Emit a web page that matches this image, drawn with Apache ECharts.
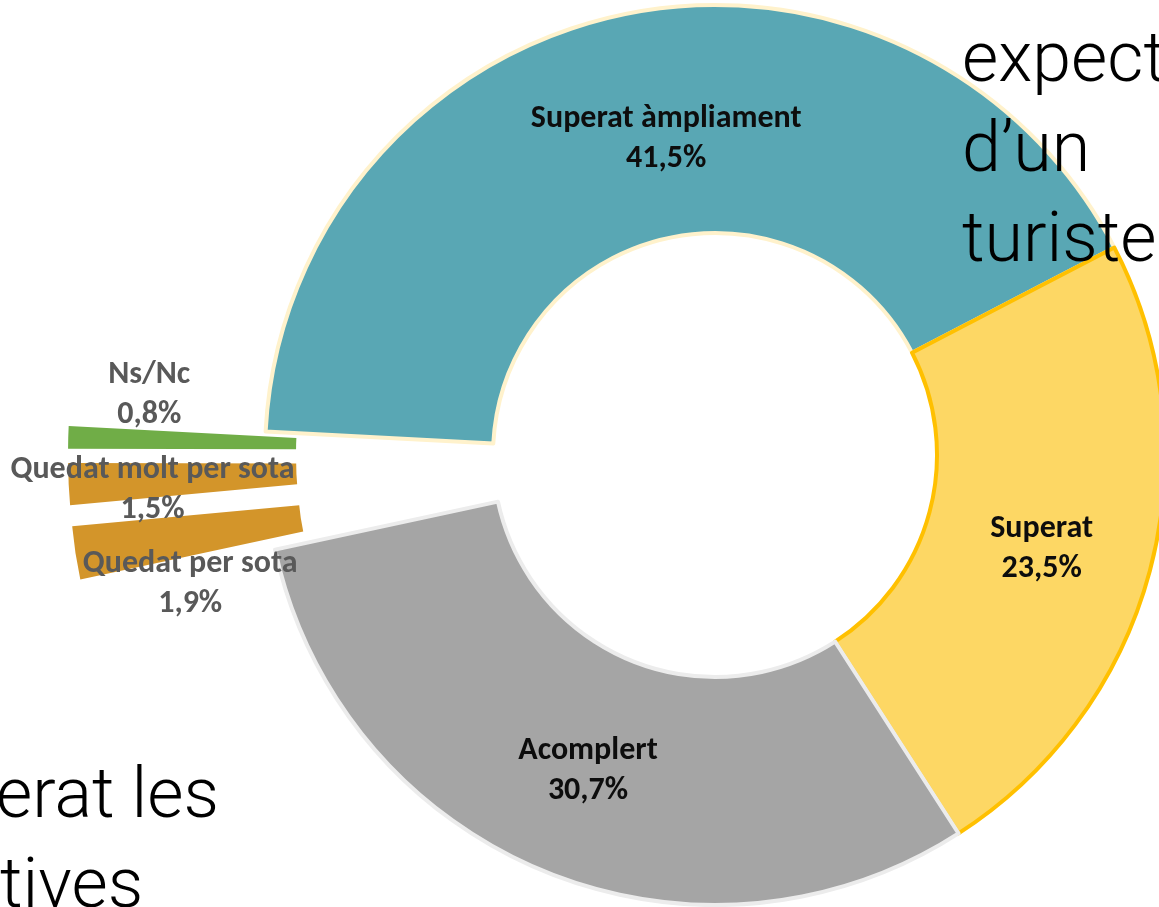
<!DOCTYPE html>
<html>
<head>
<meta charset="utf-8">
<script src="https://cdn.jsdelivr.net/npm/echarts@6/dist/echarts.min.js"></script>
<style>
  html, body { margin: 0; padding: 0; background: #fff; }
  #chart { width: 1159px; height: 907px; }
</style>
</head>
<body>
<div id="chart"></div>
<script>
// valoració respecte a les expectatives (%)
const categories = ['Superat àmpliament', 'Superat', 'Acomplert', 'Quedat per sota', 'Quedat molt per sota', 'Ns/Nc']
const shares = [41.5, 23.5, 30.7, 1.9, 1.5, 0.8]
const exploded = [false, false, false, true, true, true]
const backText = [
  { text: 'expect', x: 962, y: 87 },
  { text: 'd\u2019un', x: 962, y: 177 },
  { text: 'turiste', x: 962, y: 267 },
  { text: 'erat les', x: -4, y: 823 },
  { text: 'tives', x: 0, y: 913 },
]

const fills = ['#59a7b4', '#fdd764', '#a5a5a5', '#d3952a', '#d3952a', '#70ad47']
const borders = ['#fff2cc', '#ffc000', '#ececec', null, null, null]
// Excel-style label nudges
const nudge = [[23, 15], [-1, 7], [3, 3], [5, 48], [-27, 11], [-30, -45]]

const chart = echarts.init(document.getElementById('chart'))

chart.setOption({
  backgroundColor: '#fff',
  animation: false,
  graphic: backText.map(t => ({
    type: 'text',
    z: 100,
    silent: true,
    style: {
      text: t.text,
      x: t.x,
      y: t.y - 24,
      verticalAlign: 'middle',
      font: '300 70px Roboto, "Open Sans", sans-serif',
      fill: '#000',
    },
  })),
  series: [
    {
      type: 'pie',
      center: [715, 455],
      radius: [222, 450],
      startAngle: 177,
      clockwise: true,
      selectedMode: 'multiple',
      selectedOffset: 197,
      avoidLabelOverlap: false,
      emphasis: { disabled: true },
      labelLine: { show: false },
      label: {
        show: true,
        position: 'inside',
        fontFamily: 'Carlito, Calibri, Lato, sans-serif',
        fontWeight: 'bold',
        fontSize: 32,
        lineHeight: 40,
        color: '#0d0d0d',
        formatter: p => p.name + '\n' + String(p.value).replace('.', ',') + '%',
      },
      labelLayout: p => ({ dx: nudge[p.dataIndex][0], dy: nudge[p.dataIndex][1] }),
      data: categories.map((name, i) => ({
        name,
        value: shares[i],
        selected: exploded[i],
        itemStyle: {
          color: fills[i],
          borderColor: borders[i] || fills[i],
          borderWidth: borders[i] ? 4 : 0,
        },
        label: exploded[i] ? { color: '#595959' } : {},
      })),
    },
  ],
})
</script>
</body>
</html>
